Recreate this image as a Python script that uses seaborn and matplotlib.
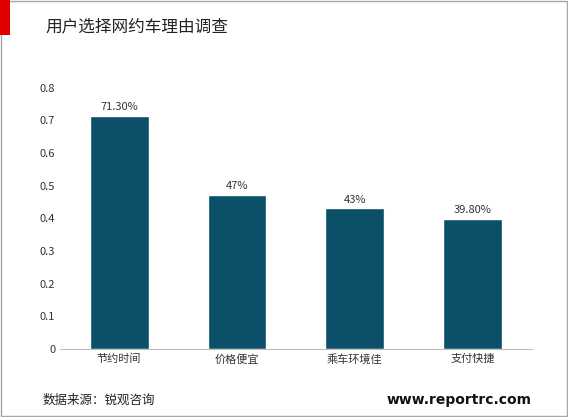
import matplotlib
matplotlib.use("Agg")
import matplotlib.pyplot as plt
import seaborn as sns
from matplotlib.patches import Rectangle

categories = ["节约时间", "价格便宜", "乘车环境佳", "支付快捷"]
values = [0.713, 0.47, 0.43, 0.398]
labels = ["71.30%", "47%", "43%", "39.80%"]

sns.set_style("white")
plt.rcParams['font.family'] = ['Noto Sans CJK SC', 'DejaVu Sans']

fig = plt.figure(figsize=(5.68, 4.17), dpi=100)
ax = fig.add_axes([0.106, 0.163, 0.83, 0.627])

sns.barplot(x=categories, y=values, color="#0B4F69", width=0.5, ax=ax, saturation=1)
for i, (v, t) in enumerate(zip(values, labels)):
    ax.text(i, v + 0.012, t, ha="center", va="bottom", fontsize=8, color="#333333")

ax.set_ylim(0, 0.8)
ax.set_yticks([i / 10 for i in range(9)])
ax.set_yticklabels(["0"] + [f"{i/10:.1f}" for i in range(1, 9)])
ax.tick_params(axis="both", labelsize=8, colors="#333333", length=0)
for s in ["top", "right", "left"]:
    ax.spines[s].set_visible(False)
ax.spines["bottom"].set_color("#BFBFBF")

# frame and decoration
fig.patches.append(Rectangle((0.002, 0.002), 0.996, 0.996, transform=fig.transFigure,
                             fill=False, edgecolor="#A6A6A6", linewidth=1))
fig.patches.append(Rectangle((0, 0.915), 0.018, 0.085, transform=fig.transFigure,
                             facecolor="#E00000", edgecolor="none"))
fig.text(0.08, 0.935, "用户选择网约车理由调查", fontsize=12, va="center", color="#222222")
fig.text(0.075, 0.04, "数据来源：锐观咨询", fontsize=9, va="center", color="#222222")
fig.text(0.935, 0.04, "www.reportrc.com", fontsize=10, fontweight="bold", ha="right",
         va="center", color="#111111", family="DejaVu Sans")

fig.savefig("out.png", dpi=100)
